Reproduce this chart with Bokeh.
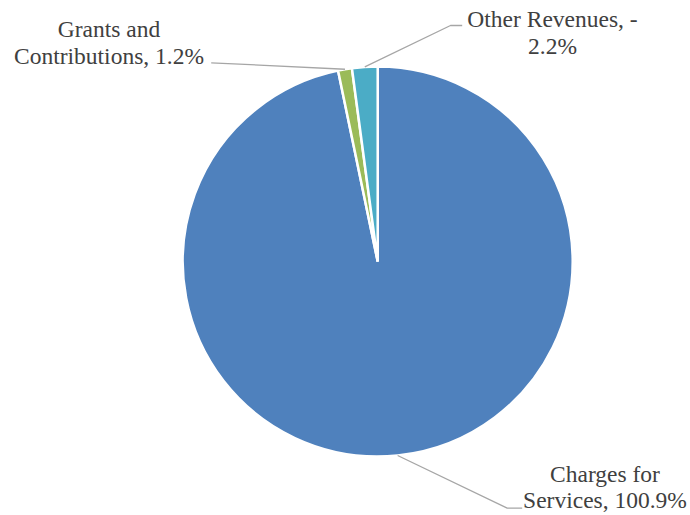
import numpy as np
from bokeh.plotting import figure
from bokeh.models import Range1d, ColumnDataSource
from bokeh.embed import file_html
from bokeh.resources import INLINE
from bokeh.core.properties import value

# ---- data ----
categories = ["Charges for Services", "Grants and Contributions", "Other Revenues"]
values = [100.9, 1.2, -2.2]
label_lines = [["Charges for", "Services, 100.9%"],
               ["Grants and", "Contributions, 1.2%"],
               ["Other Revenues, -", "2.2%"]]
colors = ["#4F81BD", "#9BBB59", "#4BACC6"]

# ---- layout (reference pixel coordinates, y down) ----
W, H = 690, 515
def Y(py):
    return H - py

cx, cy, R = 377.2, 261.0, 195.0
FS = 23.5
MID = 7.9  # baseline -> middle of em box
label_centers = [604.5, 108.5, 552.0]
label_baselines = [[481.0, 507.7], [36.0, 63.3], [26.7, 53.3]]
# leader-line waypoints after the slice edge point
leader_tails = [[(506.7, 507.7), (521.7, 507.7)],
                [(210.7, 62.3)],
                [(450.0, 25.0), (461.7, 25.0)]]

mag = np.abs(np.array(values, dtype=float))
frac = mag / mag.sum()
cum = np.cumsum(frac)
start = np.pi / 2 - 2 * np.pi * (cum - frac)
end = np.pi / 2 - 2 * np.pi * cum
mid = np.pi / 2 - 2 * np.pi * (cum - frac / 2)

p = figure(width=W, height=H, x_range=Range1d(0, W), y_range=Range1d(0, H),
           output_backend="svg", toolbar_location=None, min_border=0)
p.axis.visible = False
p.grid.visible = False
p.outline_line_color = None
p.background_fill_color = "white"
p.border_fill_color = "white"

src = ColumnDataSource(dict(x=[cx] * 3, y=[Y(cy)] * 3, start=start, end=end,
                            color=colors, cat=categories, val=values))
p.wedge(x="x", y="y", radius=R, start_angle="start", end_angle="end",
        direction="clock", fill_color="color", line_color="white",
        line_width=2.5, source=src)

# leader lines
for i in range(3):
    sx = cx + R * np.cos(mid[i])
    sy = Y(cy) + R * np.sin(mid[i])
    xs = [sx] + [t[0] for t in leader_tails[i]]
    ys = [sy] + [Y(t[1]) for t in leader_tails[i]]
    p.line(xs, ys, line_color="#A6A6A6", line_width=1.3)

# labels
tx, ty, tt = [], [], []
for i in range(3):
    for line, b in zip(label_lines[i], label_baselines[i]):
        tx.append(label_centers[i])
        ty.append(Y(b - MID))
        tt.append(line)
p.text(x=tx, y=ty, text=tt, text_align="center", text_baseline="middle",
       text_font=value("Liberation Serif"), text_font_size=f"{FS}px",
       text_color="#404040")

open("out.html", "w").write(file_html(p, INLINE))
